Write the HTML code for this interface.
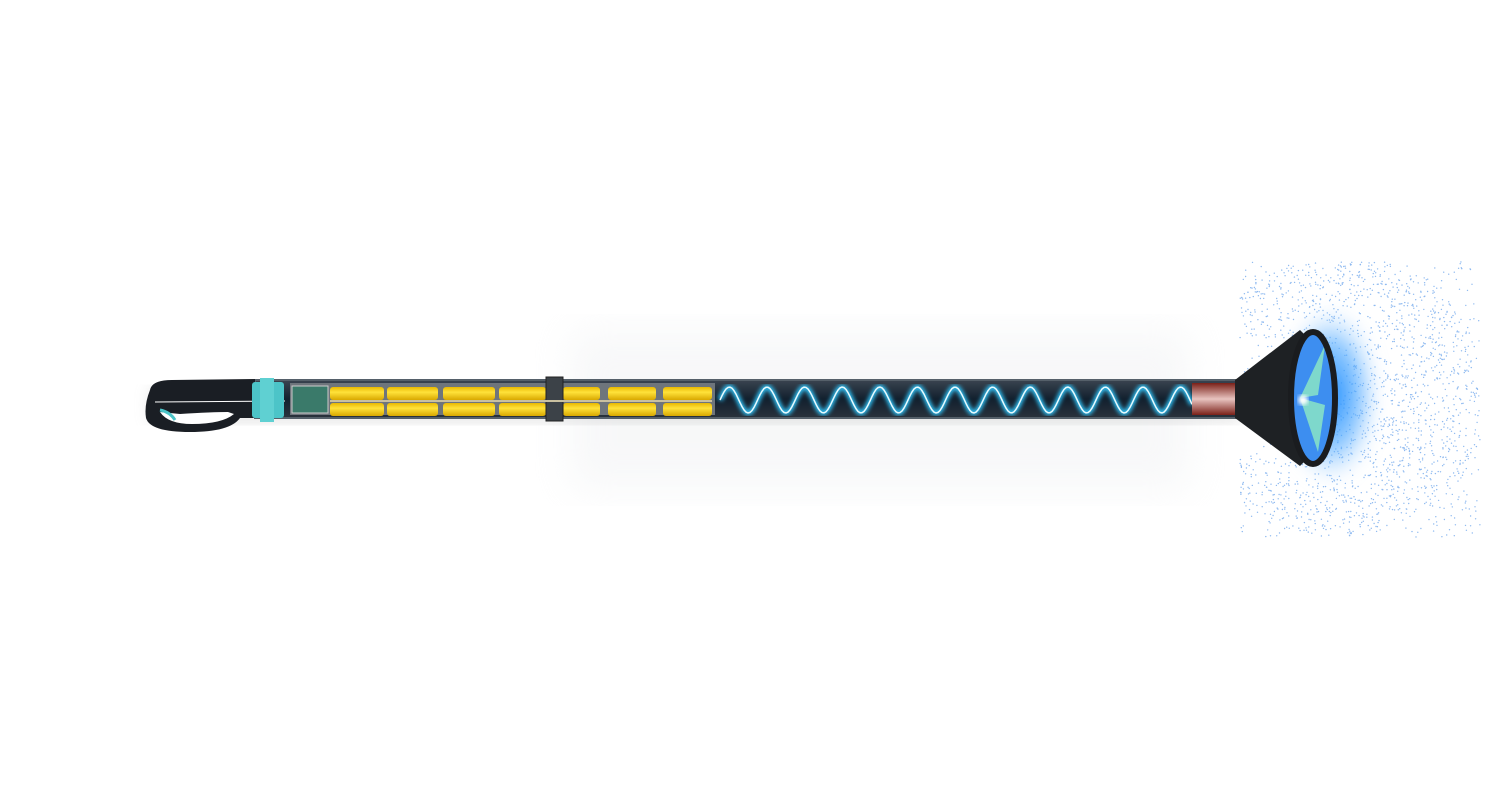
<!DOCTYPE html>
<html><head><meta charset="utf-8"><style>
html,body{margin:0;padding:0;background:#fff;width:1500px;height:810px;overflow:hidden}
</style></head><body>
<svg id="s" width="1500" height="810" viewBox="0 0 1500 810" xmlns="http://www.w3.org/2000/svg">
<defs>
<filter id="blur8"><feGaussianBlur stdDeviation="8"/></filter>
<filter id="blur20"><feGaussianBlur stdDeviation="20"/></filter>
<filter id="blur3"><feGaussianBlur stdDeviation="2"/></filter>
<linearGradient id="tube" x1="0" y1="0" x2="0" y2="1"><stop offset="0" stop-color="#3a4450"/><stop offset=".5" stop-color="#12202e"/><stop offset="1" stop-color="#2a323c"/></linearGradient>
<linearGradient id="cell" x1="0" y1="0" x2="0" y2="1"><stop offset="0" stop-color="#e8b800"/><stop offset=".4" stop-color="#ffe23a"/><stop offset="1" stop-color="#d9a800"/></linearGradient>
<linearGradient id="red" x1="0" y1="0" x2="0" y2="1"><stop offset="0" stop-color="#7a2018"/><stop offset=".5" stop-color="#e8c4c0"/><stop offset="1" stop-color="#7a2018"/></linearGradient>
<radialGradient id="glow"><stop offset="0" stop-color="#1e8cff"/><stop offset=".6" stop-color="#4aa8ff" stop-opacity=".6"/><stop offset="1" stop-color="#bfe0ff" stop-opacity="0"/></radialGradient>
</defs>
<rect x="570" y="330" width="620" height="160" fill="#eceef0" opacity=".4" filter="url(#blur20)"/>
<rect x="150" y="388" width="1090" height="34" fill="#999" opacity=".25" filter="url(#blur8)"/>
<line x1="70" y1="402" x2="150" y2="402" stroke="#bcd8f0" stroke-width="3" filter="url(#blur3)"/>
<g id="dots"></g>
<ellipse cx="1330" cy="395" rx="50" ry="90" fill="url(#glow)" filter="url(#blur8)"/>
<rect x="255" y="380" width="985" height="38" fill="url(#tube)" stroke="#55606a" stroke-width="2"/>
<rect x="290" y="383" width="425" height="32" fill="#6e757c"/>
<g id="cells" fill="url(#cell)"></g>
<rect x="546" y="377" width="17" height="44" fill="#3c4248" stroke="#222" stroke-width="1"/>
<line x1="330" y1="401" x2="712" y2="401" stroke="#c9c0a0" stroke-width="2"/>
<rect x="292" y="386" width="36" height="27" fill="#3a7a6a" stroke="#ccc"/>
<path id="wave" fill="none" stroke="#2ec8ff" stroke-width="5" filter="url(#blur3)"/>
<path id="wave2" fill="none" stroke="#e8fbff" stroke-width="1.5"/>
<rect x="1192" y="383" width="45" height="32" fill="url(#red)"/>
<!-- handle loop -->
<path d="M150 390 Q152 380 172 380 L255 379 L255 418 L240 418 Q230 432 190 432 Q150 432 146 418 Q144 405 150 390 Z" fill="#1a1e24"/>
<path d="M160 412 Q168 424 192 424 Q222 424 234 414 L228 412 Q212 412 180 414 Z" fill="#fff"/>
<path d="M160 410 Q170 412 175 420" stroke="#4cc4c8" stroke-width="3" fill="none"/>
<line x1="150" y1="402" x2="290" y2="402" stroke="#5fd8ff" stroke-width="4" filter="url(#blur3)"/>
<line x1="155" y1="402" x2="285" y2="401" stroke="#fff" stroke-width="1"/>
<rect x="252" y="382" width="32" height="36" rx="3" fill="#4cc4c8"/>
<rect x="260" y="378" width="14" height="44" fill="#5fd0d2"/>
<!-- cone -->
<path d="M1235 380 L1300 330 L1308 338 L1308 458 L1300 466 L1235 418 Z" fill="#1e2124"/>
<ellipse cx="1313" cy="398" rx="22" ry="64" fill="#3d8ef0"/>
<path d="M1300 398 L1325 345 L1318 395 Z M1300 398 L1318 452 L1325 405 Z" fill="#7ed8cc"/>
<ellipse cx="1313" cy="398" rx="22" ry="66" fill="none" stroke="#1a1c1f" stroke-width="6"/>
<circle cx="1303" cy="400" r="5" fill="#fff" filter="url(#blur3)"/>
</svg>
<script>
var NS="http://www.w3.org/2000/svg",s=document.getElementById('s');
var cols=[[330,384],[387,438],[443,495],[499,546],[563,600],[608,656],[663,712]],c=document.getElementById('cells');
cols.forEach(function(p){[[387,13],[403,13]].forEach(function(r){var e=document.createElementNS(NS,'rect');e.setAttribute('x',p[0]);e.setAttribute('y',r[0]);e.setAttribute('width',p[1]-p[0]);e.setAttribute('height',r[1]);e.setAttribute('rx',3);c.appendChild(e);});});
var d='M720 400';for(var x=720;x<=1192;x+=2){var y=400-13*Math.sin((x-720)/470*2*Math.PI*12.5);d+=' L'+x+' '+y.toFixed(1);}
document.getElementById('wave').setAttribute('d',d);document.getElementById('wave2').setAttribute('d',d);
var g=document.getElementById('dots'),seed=7;function r(){seed=(seed*16807)%2147483647;return seed/2147483647;}
for(var i=0;i<2400;i++){var x=1240+r()*240,y=262+r()*275;var dx=(x-1340)/150,dy=(y-398)/140;if(dx*dx+dy*dy>1.0&&r()<.7)continue;if(x<1290&&Math.abs(y-398)<60&&r()<.8)continue;var e=document.createElementNS(NS,'circle');e.setAttribute('cx',x.toFixed(1));e.setAttribute('cy',y.toFixed(1));e.setAttribute('r',0.7);e.setAttribute('fill','#8fbaf0');g.appendChild(e);}
</script>
</body></html>
